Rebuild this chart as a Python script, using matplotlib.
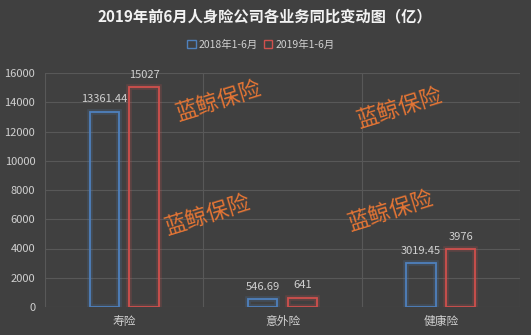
import numpy as np
import matplotlib.pyplot as plt
import matplotlib.patheffects as pe
from matplotlib.patches import Rectangle

plt.rcParams['font.family'] = ['Noto Sans CJK SC', 'DejaVu Sans']

categories = ['寿险', '意外险', '健康险']
series_names = ['2018年1-6月', '2019年1-6月']
values_2018 = [13361.44, 546.69, 3019.45]
values_2019 = [15027, 641, 3976]
labels_2018 = ['13361.44', '546.69', '3019.45']
labels_2019 = ['15027', '641', '3976']

bg = '#404040'
grid_c = '#585858'
blue = '#4f81bd'
red = '#d0504d'
text_c = '#d0d0d0'

fig = plt.figure(figsize=(5.31, 3.35), dpi=100, facecolor=bg)
ax = fig.add_axes([45 / 531, 1 - 307 / 335, 475 / 531, 234 / 335], facecolor=bg)

x = np.arange(len(categories))
w = 0.184
off = 0.125

def glow(color):
    return [pe.Stroke(linewidth=4, foreground=color, alpha=0.2), pe.Normal()]

bars1 = ax.bar(x - off, values_2018, w, facecolor='none', edgecolor=blue, linewidth=1.3, zorder=3)
bars2 = ax.bar(x + off, values_2019, w, facecolor='none', edgecolor=red, linewidth=1.3, zorder=3)
for b in bars1:
    b.set_path_effects(glow(blue))
for b in bars2:
    b.set_path_effects(glow(red))

# value labels above each bar
for xi, v, s in zip(x - off, values_2018, labels_2018):
    ax.text(xi, v + 500, s, ha='center', va='bottom', color=text_c, fontsize=8)
for xi, v, s in zip(x + off, values_2019, labels_2019):
    ax.text(xi, v + 500, s, ha='center', va='bottom', color=text_c, fontsize=8)

ax.set_xlim(-0.5, 2.5)
ax.set_ylim(0, 16000)
ax.set_yticks(np.arange(0, 16001, 2000))
ax.set_xticks(x)
ax.set_xticklabels(categories, fontsize=8.5, color=text_c)
ax.set_xticks([-0.5, 0.5, 1.5, 2.5], minor=True)
ax.tick_params(axis='y', length=0, pad=7, labelsize=8, labelcolor=text_c)
ax.tick_params(axis='x', which='both', length=0, pad=6)
ax.grid(axis='y', color=grid_c, linewidth=0.8, zorder=0)
ax.grid(axis='x', which='minor', color=grid_c, linewidth=0.8, zorder=0)
for s in ax.spines.values():
    s.set_visible(False)

# watermark text
marks = [(219, 101), (400, 108), (208, 215), (391, 211)]
for mx, my in marks:
    fig.text(mx / 531, 1 - my / 335, '蓝鲸保险', fontsize=16, color='#e47535',
             rotation=17, ha='center', va='center', fontweight='medium')

fig.text(265 / 531, 1 - 16 / 335, '2019年前6月人身险公司各业务同比变动图（亿）',
         ha='center', va='center', fontsize=11, fontweight='bold', color='#f2f2f2')

handles = [Rectangle((0, 0), 1, 1, facecolor='none', edgecolor=blue, linewidth=1.0),
           Rectangle((0, 0), 1, 1, facecolor='none', edgecolor=red, linewidth=1.0)]
fig.legend(handles, series_names, loc='center', bbox_to_anchor=(261 / 531, 1 - 45 / 335),
           ncol=2, frameon=False, fontsize=7.5, labelcolor=text_c,
           handlelength=0.8, handleheight=0.8, handletextpad=0.3, columnspacing=0.6)

fig.savefig('out.png', dpi=100, facecolor=bg)
